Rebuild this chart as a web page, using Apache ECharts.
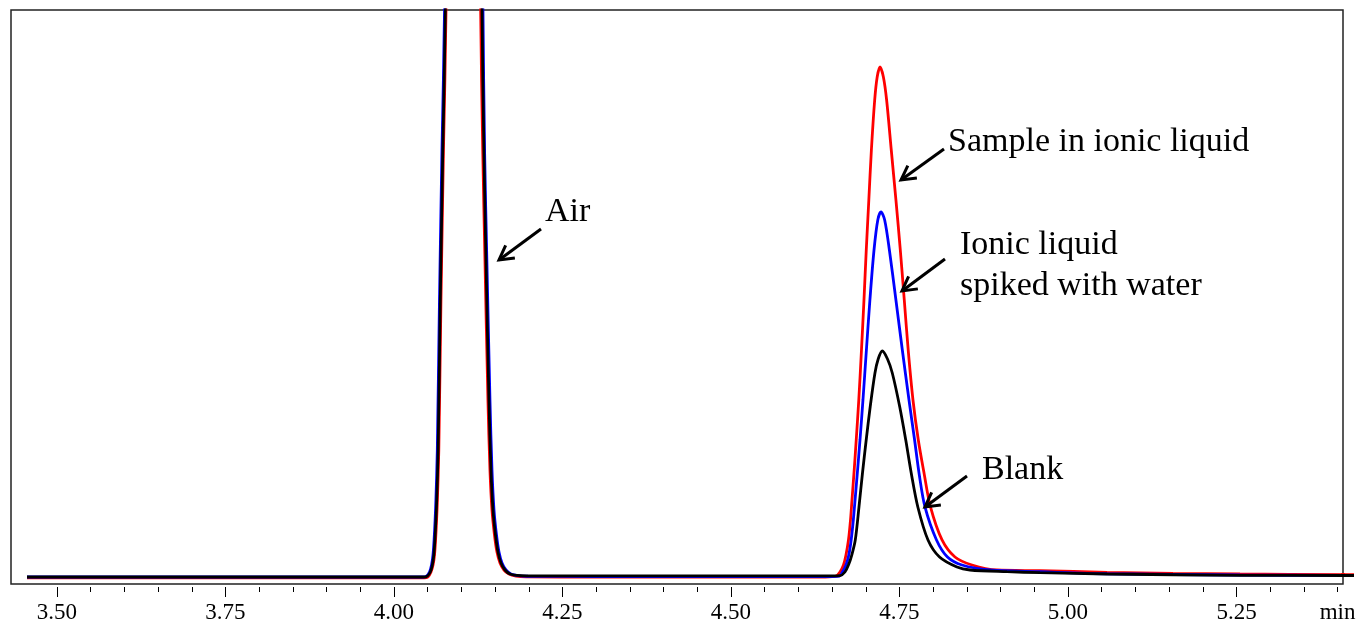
<!DOCTYPE html>
<html><head><meta charset="utf-8">
<script src="https://cdn.jsdelivr.net/npm/echarts@6/dist/echarts.min.js"></script>
<style>html,body{margin:0;padding:0;background:#fff}#c{width:1360px;height:621px}</style>
</head><body><div id="c"></div>
<script>
// ---- data (retention time in min, detector response in arbitrary units, 0..100 = visible range) ----
const majorTicks = [3.50, 3.75, 4.00, 4.25, 4.50, 4.75, 5.00, 5.25];
const labelValues = [3.50, 3.75, 4.00, 4.25, 4.50, 4.75, 5.00, 5.25, 5.40];
const unitLabel = 'min';

const redTrace = [
  [3.4555,1.05],[4.00,1.05],[4.045,1.05],[4.0504,1.22],[4.0549,2.09],[4.0579,3.31],[4.0601,5.05],[4.0617,7.67],
  [4.0632,11.15],[4.0644,14.63],[4.0665,23.34],[4.0697,49.48],[4.0734,75.61],[4.0772,100],[4.090,300],[4.103,400],
  [4.116,300],[4.1286,100],[4.1318,75],[4.1350,56.4],[4.1394,32.06],[4.1424,19.86],[4.1454,12.89],[4.1491,8.54],
  [4.1528,5.57],[4.1573,3.66],[4.1632,2.44],[4.1706,1.74],[4.1810,1.39],[4.1958,1.25],[4.30,1.22],[4.50,1.22],
  [4.64,1.22],[4.6558,1.39],[4.6617,2.09],[4.6669,3.31],[4.6706,5.05],[4.6743,7.67],[4.6773,11.15],[4.6795,14.63],
  [4.6828,19.86],[4.6858,25.09],[4.6896,32.06],[4.6936,40.77],[4.6973,49.48],[4.7007,58.19],[4.7045,66.90],
  [4.7083,75.61],[4.7132,84.32],[4.7169,88.33],[4.7211,90.07],[4.7261,88.33],[4.7309,84.32],[4.7378,75.61],
  [4.7447,66.90],[4.7512,58.19],[4.7571,49.48],[4.7629,40.77],[4.7700,32.06],[4.7779,25.09],[4.7864,19.34],
  [4.7960,13.42],[4.8131,7.67],[4.8323,4.70],[4.8576,3.31],[4.8947,2.44],[4.9585,2.32],[5.0579,2.04],
  [5.1558,1.86],[5.2552,1.74],[5.4243,1.62]
];
const blueTrace = [
  [3.4555,1.22],[4.00,1.22],[4.043,1.22],[4.0482,1.39],[4.0527,2.09],[4.0557,3.31],[4.0579,5.05],[4.0595,7.67],
  [4.0610,11.15],[4.0622,14.63],[4.0643,23.34],[4.0675,49.48],[4.0712,75.61],[4.0750,100],[4.088,300],[4.103,400],
  [4.118,300],[4.1320,100],[4.1345,75],[4.1378,56.4],[4.1424,32.06],[4.1454,19.86],[4.1484,12.89],[4.1521,8.54],
  [4.1558,5.57],[4.1603,3.66],[4.1662,2.44],[4.1736,1.74],[4.1840,1.45],[4.1988,1.35],[4.30,1.31],[4.50,1.31],
  [4.64,1.31],[4.6610,1.39],[4.6654,2.09],[4.6706,3.31],[4.6748,5.05],[4.6783,7.67],[4.6815,11.15],[4.6832,13.42],
  [4.6872,18.99],[4.6914,25.09],[4.6958,32.06],[4.7009,40.77],[4.7061,49.48],[4.7122,58.19],[4.7178,63.41],
  [4.7226,64.81],[4.7280,63.41],[4.7350,58.19],[4.7447,49.48],[4.7542,40.77],[4.7641,32.06],[4.7724,25.09],
  [4.7794,18.99],[4.7878,13.42],[4.8049,7.67],[4.8212,4.70],[4.8427,3.31],[4.8843,2.44],[4.9585,2.14],
  [5.0579,1.79],[5.2552,1.57],[5.4243,1.48]
];
const blackTrace = [
  [3.4555,1.22],[4.00,1.22],[4.044,1.22],[4.0494,1.39],[4.0539,2.09],[4.0569,3.31],[4.0591,5.05],[4.0607,7.67],
  [4.0622,11.15],[4.0634,14.63],[4.0655,23.34],[4.0687,49.48],[4.0724,75.61],[4.0762,100],[4.089,300],[4.103,400],
  [4.117,300],[4.1306,100],[4.1335,75],[4.1365,56.4],[4.1409,32.06],[4.1439,19.86],[4.1469,12.89],[4.1506,8.54],
  [4.1543,5.57],[4.1588,3.66],[4.1647,2.44],[4.1721,1.74],[4.1825,1.50],[4.1973,1.42],[4.30,1.40],[4.50,1.40],
  [4.650,1.40],[4.6617,1.45],[4.6691,2.09],[4.6743,3.31],[4.6792,5.05],[4.6844,7.67],[4.6899,13.42],[4.6951,19.34],
  [4.7006,25.09],[4.7065,30.84],[4.7136,36.76],[4.7184,39.20],[4.7245,40.59],[4.7322,39.20],[4.7393,36.76],
  [4.7504,30.84],[4.7593,25.09],[4.7674,19.34],[4.7772,13.42],[4.7923,7.67],[4.8094,4.70],[4.8353,2.96],
  [4.8546,2.44],[4.9095,2.14],[4.9585,1.97],[5.0579,1.74],[5.2552,1.52],[5.4243,1.48]
];
const seriesNames = ['Sample in ionic liquid', 'Ionic liquid spiked with water', 'Blank'];
const annotationTexts = ['Sample in ionic liquid', 'Air', 'Ionic liquid', 'spiked with water', 'Blank'];

// ---- chart ----
const X_MIN = 3.4318, X_MAX = 5.408, X_END = 5.4243;
const minorTicks = [];
for (let k = 70; k <= 108; k++) minorTicks.push(+(k * 0.05).toFixed(2));

const FONT = '"Liberation Serif", "Times New Roman", serif';
const chart = echarts.init(document.getElementById('c'), null, {renderer: 'canvas'});

const traces = [redTrace, blueTrace, blackTrace];
const colors = ['#ff0000', '#0000ff', '#000000'];

const series = [];
traces.forEach((d, i) => {
  series.push({type: 'line', name: seriesNames[i], data: d, xAxisIndex: 0, yAxisIndex: 0,
    showSymbol: false, smooth: 0.3, clip: true, silent: true,
    lineStyle: {color: colors[i], width: 2.8}, z: 2 + i});
  series.push({type: 'line', name: seriesNames[i] + ' (tail)', data: d, xAxisIndex: 3, yAxisIndex: 1,
    showSymbol: false, smooth: 0.3, clip: true, silent: true,
    lineStyle: {color: colors[i], width: 2.8}, z: 2 + i});
});

// annotations
const graphic = [];
function addText(str, x, y) {
  graphic.push({type: 'text', x: x, y: y, z: 10,
    style: {text: str, font: '34px ' + FONT, fill: '#000', verticalAlign: 'middle', align: 'left'}});
}
function addArrow(tail, tip) {
  const dx = tail[0] - tip[0], dy = tail[1] - tip[1], L = Math.hypot(dx, dy);
  const ux = dx / L, uy = dy / L, w = 16, a = 29 * Math.PI / 180;
  const rot = (ang) => [tip[0] + w * (ux * Math.cos(ang) - uy * Math.sin(ang)),
                        tip[1] + w * (ux * Math.sin(ang) + uy * Math.cos(ang))];
  graphic.push({type: 'polyline', z: 10, shape: {points: [tail, tip]},
    style: {stroke: '#000', lineWidth: 3, fill: null}});
  graphic.push({type: 'polyline', z: 10, shape: {points: [rot(a), tip, rot(-a)]},
    style: {stroke: '#000', lineWidth: 3, fill: null, lineJoin: 'miter'}});
}
addText(annotationTexts[0], 948, 142); addArrow([944, 149], [901, 180]);
addText(annotationTexts[1], 545, 212); addArrow([541, 229], [499, 260]);
addText(annotationTexts[2], 960, 245); addText(annotationTexts[3], 960, 286); addArrow([945, 259], [902, 291]);
addText(annotationTexts[4], 982, 470); addArrow([967, 476], [925, 507]);

const baseX = {type: 'value', min: X_MIN, max: X_MAX, gridIndex: 0, position: 'bottom',
  splitLine: {show: false}, axisLine: {show: false}};

chart.setOption({
  animation: false,
  backgroundColor: '#fff',
  grid: [
    {left: 11, right: 17, top: 10, bottom: 37, show: true, borderColor: '#222', borderWidth: 1.5,
     backgroundColor: 'transparent', containLabel: false, outerBoundsMode: 'none'},
    {left: 1343, right: 6, top: 10, bottom: 37, show: false, containLabel: false, outerBoundsMode: 'none'}
  ],
  xAxis: [
    Object.assign({}, baseX, {axisTick: {show: false}, axisLabel: {show: false}}),
    Object.assign({}, baseX, {offset: 3,
      axisTick: {show: true, customValues: majorTicks, length: 10, lineStyle: {color: '#000', width: 1}},
      axisLabel: {show: true, customValues: labelValues, margin: 14, color: '#000',
        fontFamily: FONT, fontSize: 23,
        formatter: v => (v > 5.3 ? unitLabel : v.toFixed(2))}}),
    Object.assign({}, baseX, {offset: 3,
      axisTick: {show: true, customValues: minorTicks, length: 5, lineStyle: {color: '#000', width: 1}},
      axisLabel: {show: false}}),
    {type: 'value', gridIndex: 1, min: X_MAX, max: X_END, show: false}
  ],
  yAxis: [
    {type: 'value', gridIndex: 0, min: 0, max: 100, show: false},
    {type: 'value', gridIndex: 1, min: 0, max: 100, show: false}
  ],
  series: series,
  graphic: graphic
});
</script>
</body></html>
